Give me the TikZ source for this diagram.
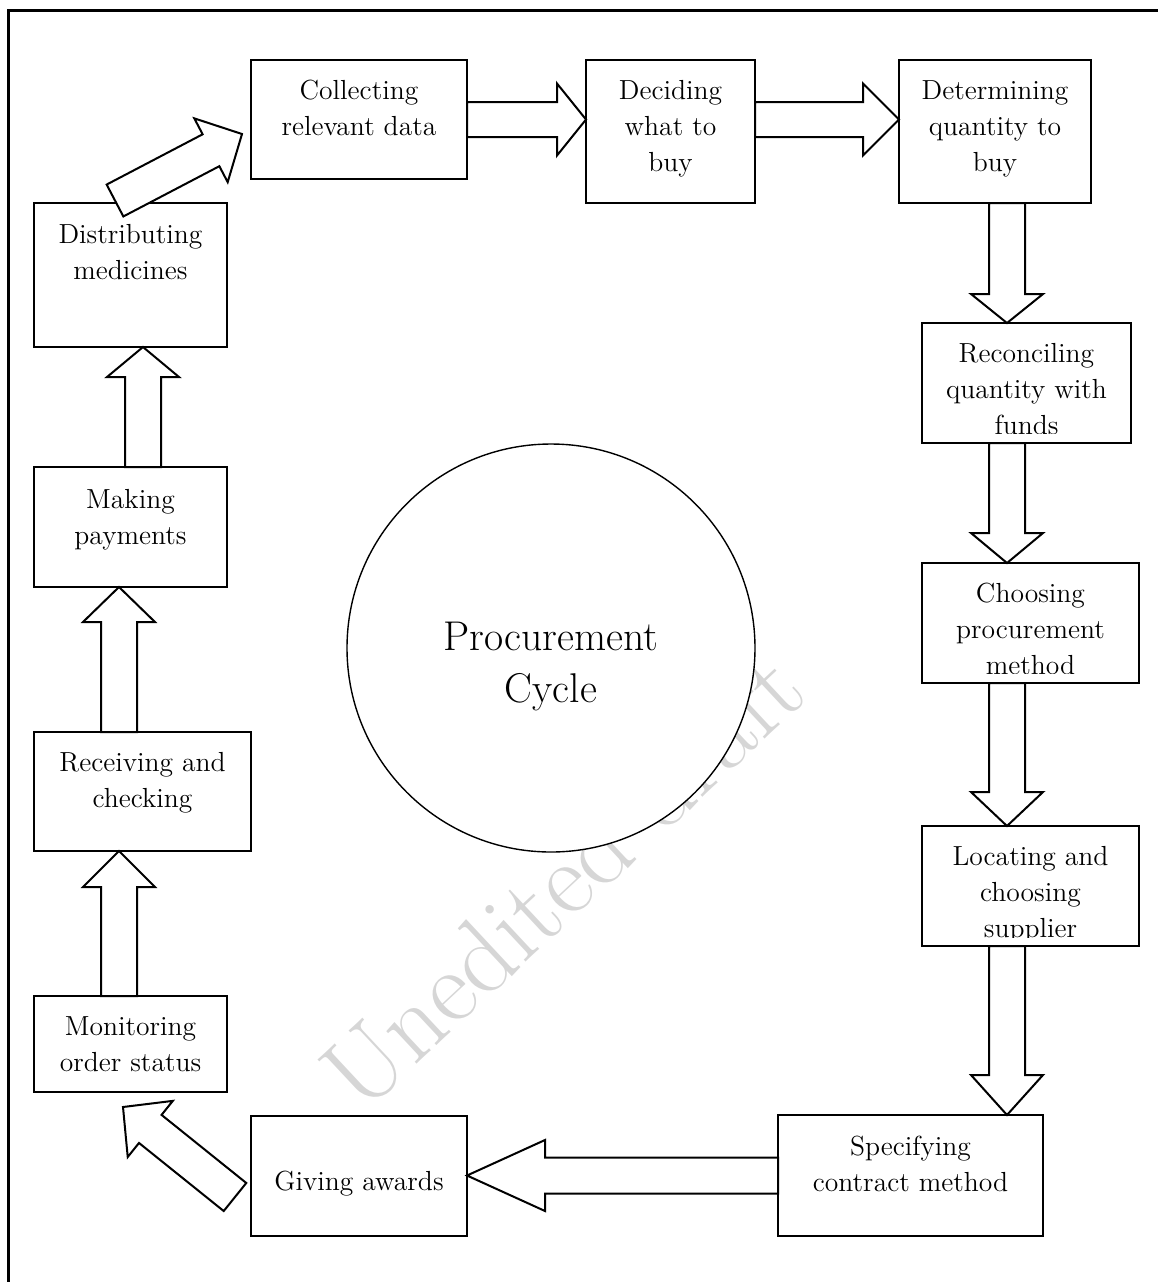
\documentclass[tikz,border=0pt]{standalone}
\usetikzlibrary{calc}

\tikzset{
  px/.style={x=0.5pt,y=-0.5pt},
  box/.style={draw, line width=1pt, fill=white, inner sep=0pt, outer sep=0pt},
  blockarrow/.style={draw, line width=1pt, fill=white, line join=miter},
  frame/.style={line width=1.5pt},
  lbl/.style={inner sep=0pt, anchor=base},
}

% box given by its corners: name, x1, y1, x2, y2
\newcommand\procbox[5]{%
  \node[box, minimum width={(#4-#2)*0.5pt}, minimum height={(#5-#3)*0.5pt}]
    (#1) at ({(#2+#4)/2},{(#3+#5)/2}) {};}

% centred lines of a step label
\newcommand\steptext[1]{\parbox[t]{120pt}{\centering\fontsize{13.8}{18}\selectfont #1}}

% hollow block arrow: start, tip, shaft half width, head half width, head length
\newcommand\blockarrow[5]{%
  \path (#1) coordinate (ba-s) (#2) coordinate (ba-t);
  \path ($(ba-t)!#5!(ba-s)$) coordinate (ba-h);
  \draw[blockarrow]
    ($(ba-s)!#3!90:(ba-t)$) -- ($(ba-h)!#3!90:(ba-t)$) --
    ($(ba-h)!#4!90:(ba-t)$) -- (ba-t) --
    ($(ba-h)!#4!-90:(ba-t)$) -- ($(ba-h)!#3!-90:(ba-t)$) --
    ($(ba-s)!#3!-90:(ba-t)$) -- cycle;}

\begin{document}
\begin{tikzpicture}[px]
\useasboundingbox (0,0) rectangle (1158,1282);

% watermark behind everything
\node[rotate=43, text=black!16, font=\fontsize{52}{52}\selectfont, inner sep=0pt]
  (wm) at (562,880) {Unedited draft};

% page frame
\draw[frame] (8,1300) -- (8,10) -- (1170,10);

% steps of the cycle
\procbox{col}{251}{60}{467}{179}
\procbox{dec}{586}{60}{755}{203}
\procbox{det}{899}{60}{1091}{203}
\procbox{rec}{922}{323}{1131}{443}
\procbox{cho}{922}{563}{1139}{683}
\procbox{loc}{922}{826}{1139}{946}
\procbox{spe}{778}{1115}{1043}{1236}
\procbox{giv}{251}{1116}{467}{1236}
\procbox{mon}{34}{996}{227}{1092}
\procbox{rcv}{34}{732}{251}{851}
\procbox{pay}{34}{467}{227}{587}
\procbox{dis}{34}{203}{227}{347}

\node[circle, draw, line width=0.7pt, fill=white, minimum size=204pt,
      inner sep=0pt, outer sep=0pt] (cyc) at (551,648) {};

% labels
\node[lbl] (colT) at ($(col.north)+(0,39)$) {\steptext{Collecting\\relevant data}};
\node[lbl] (decT) at ($(dec.north)+(0,39)$) {\steptext{Deciding\\what to\\buy}};
\node[lbl] (detT) at ($(det.north)+(0,39)$) {\steptext{Determining\\quantity to\\buy}};
\begin{scope}
  \clip ($(rec.south west)+(0,-10)$) rectangle (rec.north east);
  \node[lbl] (recT) at ($(rec.north)+(0,39)$) {\steptext{Reconciling\\quantity with\\funds}};
\end{scope}
\begin{scope}
  \clip ($(cho.south west)+(0,-10)$) rectangle (cho.north east);
  \node[lbl] (choT) at ($(cho.north)+(0,39)$) {\steptext{Choosing\\procurement\\method}};
\end{scope}
\begin{scope}
  \clip ($(loc.south west)+(0,-9)$) rectangle (loc.north east);
  \node[lbl] (locT) at ($(loc.north)+(0,39)$) {\steptext{Locating and\\choosing\\supplier}};
\end{scope}
\node[lbl] (speT) at ($(spe.north)+(0,40)$) {\steptext{Specifying\\contract method}};
\node[lbl] (givT) at ($(giv.north)+(0,74)$) {\steptext{Giving awards}};
\node[lbl] (monT) at ($(mon.north)+(0,39)$) {\steptext{Monitoring\\order status}};
\node[lbl] (rcvT) at ($(rcv.north)+(0,39)$) {\steptext{Receiving and\\checking}};
\node[lbl] (payT) at ($(pay.north)+(0,41)$) {\steptext{Making\\payments}};
\node[lbl] (disT) at ($(dis.north)+(0,40)$) {\steptext{Distributing\\medicines}};
\node[lbl] (cycT) at ($(cyc.center)+(0,2)$)
  {\parbox[t]{150pt}{\centering\fontsize{20.8}{26}\selectfont Procurement\\Cycle}};

% arrow axes
\coordinate (rx) at (1007,0);
\coordinate (lx) at (119,0);
\coordinate (lxx) at (143,0);

% connectors
\blockarrow{col.east}{col.east -| dec.west}{8.75pt}{18pt}{14.5pt}
\blockarrow{col.east -| dec.east}{col.east -| det.west}{8.75pt}{18pt}{18pt}
\blockarrow{rx |- det.south}{rx |- rec.north}{9pt}{18pt}{14.5pt}
\blockarrow{rx |- rec.south}{rx |- cho.north}{9pt}{18pt}{15pt}
\blockarrow{rx |- cho.south}{rx |- loc.north}{9pt}{18pt}{17pt}
\blockarrow{rx |- loc.south}{rx |- spe.north}{9pt}{18pt}{20pt}
\blockarrow{spe.west}{spe.west -| giv.east}{9pt}{17.75pt}{39pt}
\coordinate (d1s) at ($(giv.west)+(-16,21)$);
\coordinate (d1t) at ($(mon.south)+(-7.5,15)$);
\blockarrow{d1s}{d1t}{9pt}{18pt}{17.5pt}
\blockarrow{lx |- mon.north}{lx |- rcv.south}{9pt}{18pt}{18pt}
\blockarrow{lx |- rcv.north}{lx |- pay.south}{9pt}{18pt}{17.5pt}
\blockarrow{lxx |- pay.north}{lxx |- dis.south}{9pt}{18pt}{15pt}
\coordinate (d2s) at ($(dis.north)+(-15.5,-2.5)$);
\coordinate (d2t) at ($(col.west)+(-9,14.5)$);
\blockarrow{d2s}{d2t}{9pt}{18pt}{17.5pt}
\end{tikzpicture}
\end{document}
